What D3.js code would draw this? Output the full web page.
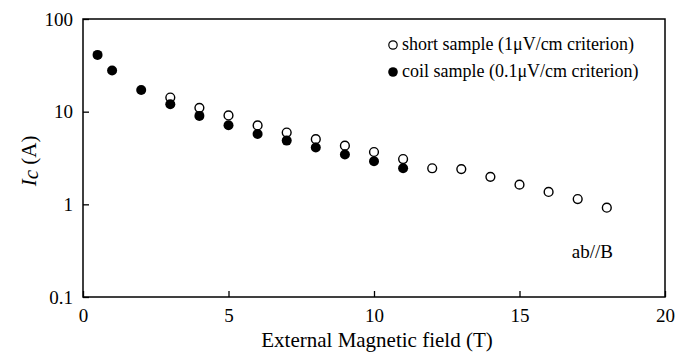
<!DOCTYPE html>
<html>
<head>
<meta charset="utf-8">
<script src="https://cdn.jsdelivr.net/npm/d3@7"></script>
<style>
  body { margin: 0; background: #fff; }
  text { font-family: "Liberation Serif", "Times New Roman", serif; fill: #000; }
</style>
</head>
<body>
<svg id="chart" width="686" height="353"></svg>
<script>
// field values (T) and critical current (A)
const shortField = [3, 4, 5, 6, 7, 8, 9, 10, 11, 12, 13, 14, 15, 16, 17, 18];
const shortIc = [14.2, 11.0, 9.1, 7.1, 5.95, 5.05, 4.3, 3.67, 3.08, 2.45, 2.4, 1.98, 1.63, 1.36, 1.14, 0.92];
const coilField = [0.5, 1, 2, 3, 4, 5, 6, 7, 8, 9, 10, 11];
const coilIc = [41, 27.8, 17.1, 12.0, 9.0, 7.15, 5.75, 4.87, 4.1, 3.45, 2.92, 2.45];
const xTicks = [0, 5, 10, 15, 20];
const yTicks = [0.1, 1, 10, 100];

const serif = '"Liberation Serif", "Times New Roman", serif';
const svg = d3.select('#chart');
const mLeft = 83, mRight = 665, mTop = 19, mBottom = 297;

const x = d3.scaleLinear().domain([0, 20]).range([mLeft, mRight]);
const y = d3.scaleLog().domain([0.1, 100]).range([mBottom, mTop]);

// frame
svg.append('rect')
  .attr('x', mLeft).attr('y', mTop)
  .attr('width', mRight - mLeft).attr('height', mBottom - mTop)
  .attr('fill', 'none').attr('stroke', '#000').attr('stroke-width', 1.5);

// x axis ticks (inward)
const xAxis = svg.append('g').attr('transform', `translate(0,${mBottom})`)
  .call(d3.axisBottom(x).tickValues(xTicks).tickSizeInner(-6).tickSizeOuter(0).tickPadding(12)
    .tickFormat(d3.format('d')));
xAxis.attr('font-family', serif).attr('font-size', 19);
xAxis.select('.domain').remove();
xAxis.selectAll('line').attr('stroke-width', 1.3);

const yAxis = svg.append('g').attr('transform', `translate(${mLeft},0)`)
  .call(d3.axisLeft(y).tickValues(yTicks).tickSizeInner(-6).tickSizeOuter(0).tickPadding(10)
    .tickFormat(d => d < 1 ? '0.1' : d3.format('d')(d)));
yAxis.attr('font-family', serif).attr('font-size', 19);
yAxis.select('.domain').remove();
yAxis.selectAll('line').attr('stroke-width', 1.3);

// markers
svg.append('g').selectAll('circle')
  .data(shortField.map((f, i) => [f, shortIc[i]]))
  .enter().append('circle')
  .attr('cx', d => x(d[0])).attr('cy', d => y(d[1])).attr('r', 4.4)
  .attr('fill', '#fff').attr('stroke', '#000').attr('stroke-width', 1.4);

svg.append('g').selectAll('circle')
  .data(coilField.map((f, i) => [f, coilIc[i]]))
  .enter().append('circle')
  .attr('cx', d => x(d[0])).attr('cy', d => y(d[1])).attr('r', 5)
  .attr('fill', '#000');

// legend
const legend = svg.append('g');
legend.append('circle').attr('cx', 393).attr('cy', 45).attr('r', 4.2)
  .attr('fill', '#fff').attr('stroke', '#000').attr('stroke-width', 1.2);
legend.append('text').attr('x', 402).attr('y', 50).style('font-size', '18px')
  .text('short sample (1μV/cm criterion)');
legend.append('circle').attr('cx', 393).attr('cy', 72).attr('r', 4.8).attr('fill', '#000');
legend.append('text').attr('x', 402).attr('y', 77).style('font-size', '18px')
  .text('coil sample (0.1μV/cm criterion)');

svg.append('text').attr('x', 613).attr('y', 258).attr('text-anchor', 'end')
  .style('font-size', '19px').text('ab//B');

// axis titles
svg.append('text').attr('x', (mLeft + mRight) / 2 + 3).attr('y', 347).attr('text-anchor', 'middle')
  .style('font-size', '21px').text('External Magnetic field (T)');

const yl = svg.append('text').attr('transform', 'translate(36,161) rotate(-90)')
  .attr('text-anchor', 'middle').style('font-size', '21px');
yl.append('tspan').style('font-style', 'italic').text('I');
yl.append('tspan').style('font-style', 'italic').attr('dy', 2).text('c');
yl.append('tspan').attr('dy', -2).text(' (A)');
</script>
</body>
</html>
